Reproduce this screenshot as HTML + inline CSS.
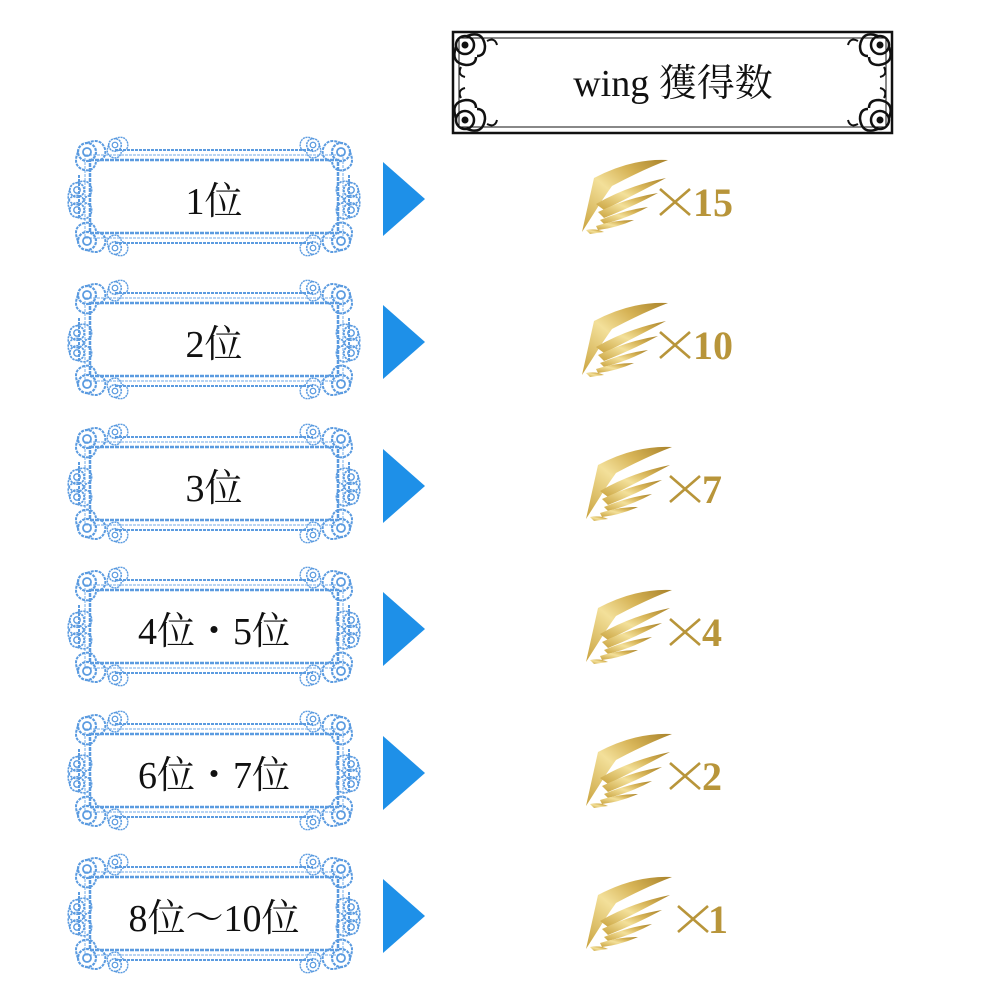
<!DOCTYPE html>
<html><head><meta charset="utf-8"><style>
html,body{margin:0;padding:0;background:#fff;}
svg{display:block;}
text{font-family:"Liberation Serif","Noto Serif CJK SC",serif;}
</style></head><body>
<svg width="1000" height="1000" viewBox="0 0 1000 1000" xmlns="http://www.w3.org/2000/svg">
<defs>
<linearGradient id="gold" x1="0" y1="1" x2="1" y2="0">
<stop offset="0" stop-color="#c9a23d"/><stop offset="0.45" stop-color="#f3e09a"/><stop offset="0.7" stop-color="#d7b457"/><stop offset="1" stop-color="#a8822a"/>
</linearGradient>
<g id="scroll">
<circle cx="0" cy="0" r="9" fill="none" stroke="#5b9be0" stroke-width="2.2" stroke-dasharray="3 1"/>
<circle cx="0" cy="0" r="4" fill="none" stroke="#5b9be0" stroke-width="1.8"/>
<path d="M-9 0 q-6 14 6 18 q10 2 12 -8" fill="none" stroke="#5b9be0" stroke-width="2" stroke-dasharray="3 1"/>
<path d="M0 -9 q14 -6 18 6 q2 10 -8 12" fill="none" stroke="#5b9be0" stroke-width="2" stroke-dasharray="3 1"/>
</g>
<g id="frame">
<rect x="25" y="20" width="248" height="73" fill="none" stroke="#5b9be0" stroke-width="2.5" stroke-dasharray="4 1"/>
<rect x="20" y="15" width="258" height="83" fill="none" stroke="#8dbbec" stroke-width="1.2" stroke-dasharray="3 1"/>
<line x1="50" y1="10" x2="248" y2="10" stroke="#5b9be0" stroke-width="2" stroke-dasharray="3 1"/>
<line x1="50" y1="103" x2="248" y2="103" stroke="#5b9be0" stroke-width="2" stroke-dasharray="3 1"/>
<line x1="14" y1="35" x2="14" y2="78" stroke="#5b9be0" stroke-width="2" stroke-dasharray="3 1"/>
<line x1="284" y1="35" x2="284" y2="78" stroke="#5b9be0" stroke-width="2" stroke-dasharray="3 1"/>
<use href="#scroll" x="22" y="12"/>
<use href="#scroll" transform="translate(276 12) scale(-1 1)"/>
<use href="#scroll" transform="translate(22 101) scale(1 -1)"/>
<use href="#scroll" transform="translate(276 101) scale(-1 -1)"/>
<use href="#scroll" transform="translate(12 50) scale(0.8)"/>
<use href="#scroll" transform="translate(286 50) scale(-0.8 0.8)"/>
<use href="#scroll" transform="translate(12 70) scale(0.8 -0.8)"/>
<use href="#scroll" transform="translate(286 70) scale(-0.8 -0.8)"/>
<use href="#scroll" transform="translate(50 5) scale(0.7)"/>
<use href="#scroll" transform="translate(248 5) scale(-0.7 0.7)"/>
<use href="#scroll" transform="translate(50 108) scale(0.7 -0.7)"/>
<use href="#scroll" transform="translate(248 108) scale(-0.7 -0.7)"/>
</g>
<g id="wing">
<path d="M0 72 L12 18 Q50 -2 86 0 Q60 10 30 26 Q20 40 14 50 Z" fill="url(#gold)"/>
<path d="M14 44 Q45 26 84 18 Q58 32 22 50 Z" fill="url(#gold)"/>
<path d="M16 52 Q45 38 76 33 Q52 46 22 58 Z" fill="url(#gold)"/>
<path d="M18 60 Q42 50 66 47 Q46 58 22 64 Z" fill="url(#gold)"/>
<path d="M14 66 Q32 60 52 60 Q34 68 16 70 Z" fill="url(#gold)"/>
<path d="M4 70 Q14 68 22 72 L8 74 Z" fill="url(#gold)"/>
</g>
<g id="x"><path d="M0 0 L30 26 M30 0 L0 26" stroke="#b8953a" stroke-width="2.6"/></g>
<g id="sc2">
<circle cx="0" cy="0" r="9" fill="none" stroke="#111" stroke-width="2.5"/>
<circle cx="0" cy="0" r="3.5" fill="#111"/>
<path d="M-9 2 q-6 16 10 18 q10 0 10 -8" fill="none" stroke="#111" stroke-width="2.5"/>
<path d="M2 -9 q16 -6 18 10 q0 10 -8 10" fill="none" stroke="#111" stroke-width="2.5"/>
<path d="M-4 22 q-4 8 4 10 M22 -4 q8 -4 10 4" fill="none" stroke="#111" stroke-width="2"/>
</g>
</defs>

<rect x="453" y="32" width="439" height="101" fill="none" stroke="#111" stroke-width="2.5"/>
<rect x="459" y="38" width="427" height="89" fill="none" stroke="#111" stroke-width="1"/>
<use href="#sc2" x="465" y="45"/>
<use href="#sc2" transform="translate(880 45) scale(-1 1)"/>
<use href="#sc2" transform="translate(465 120) scale(1 -1)"/>
<use href="#sc2" transform="translate(880 120) scale(-1 -1)"/>
<text x="673" y="96" font-size="38" text-anchor="middle" fill="#111">wing 獲得数</text>

<g>
<use href="#frame" x="65" y="140"/>
<use href="#frame" x="65" y="283"/>
<use href="#frame" x="65" y="427"/>
<use href="#frame" x="65" y="570"/>
<use href="#frame" x="65" y="714"/>
<use href="#frame" x="65" y="857"/>
</g>
<g font-size="38" fill="#111" text-anchor="middle">
<text x="214" y="214">1位</text>
<text x="214" y="357">2位</text>
<text x="214" y="501">3位</text>
<text x="214" y="644">4位・5位</text>
<text x="214" y="788">6位・7位</text>
<text x="214" y="931">8位〜10位</text>
</g>
<g fill="#1e90e8">
<polygon points="383,162 425,199 383,236"/>
<polygon points="383,305 425,342 383,379"/>
<polygon points="383,449 425,486 383,523"/>
<polygon points="383,592 425,629 383,666"/>
<polygon points="383,736 425,773 383,810"/>
<polygon points="383,879 425,916 383,953"/>
</g>
<use href="#wing" x="582" y="160"/>
<use href="#wing" x="582" y="303"/>
<use href="#wing" x="586" y="447"/>
<use href="#wing" x="586" y="590"/>
<use href="#wing" x="586" y="734"/>
<use href="#wing" x="586" y="877"/>
<use href="#x" x="660" y="189"/>
<use href="#x" x="660" y="332"/>
<use href="#x" x="670" y="476"/>
<use href="#x" x="670" y="619"/>
<use href="#x" x="670" y="763"/>
<use href="#x" x="678" y="906"/>
<g font-size="40" font-weight="bold" fill="#b8953a">
<text x="693" y="216">15</text>
<text x="693" y="359">10</text>
<text x="702" y="503">7</text>
<text x="702" y="646">4</text>
<text x="702" y="790">2</text>
<text x="708" y="933">1</text>
</g>
</svg>
</body></html>
